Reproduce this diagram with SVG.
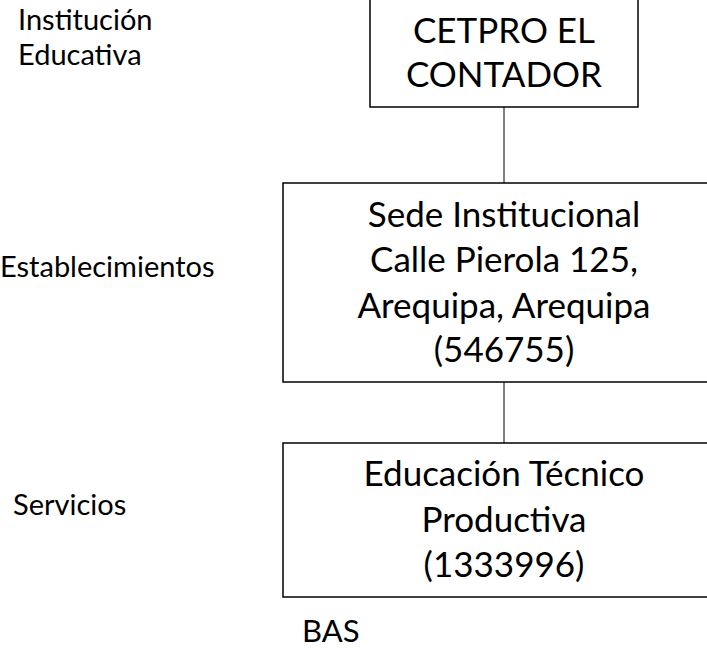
<svg xmlns="http://www.w3.org/2000/svg" width="707" height="648" viewBox="0 0 707 648">
<style>
  .box { fill: #ffffff; stroke: #000000; stroke-width: 1.5; }
  .conn { stroke: #000000; stroke-width: 1; fill: none; }
  .t { font-family: Lato, "Open Sans", "Liberation Sans", sans-serif; fill: #000000; }
  .big { font-size: 35px; text-anchor: middle; }
  .lab { font-size: 29px; }
</style>
<rect width="707" height="648" fill="#ffffff"/>
<g id="connectors">
  <line class="conn" x1="504" y1="107" x2="504" y2="183"/>
  <line class="conn" x1="504" y1="382" x2="504" y2="443"/>
</g>
<g id="node-cetpro">
  <rect class="box" x="370" y="-1" width="268" height="108"/>
  <text class="t big" x="504" y="43">CETPRO EL</text>
  <text class="t big" x="504" y="87">CONTADOR</text>
</g>
<g id="node-sede">
  <rect class="box" x="283" y="183" width="442" height="199"/>
  <text class="t big" x="504" y="227">Sede Institucional</text>
  <text class="t big" x="504" y="272">Calle Pierola 125,</text>
  <text class="t big" x="504" y="318">Arequipa, Arequipa</text>
  <text class="t big" x="504" y="362">(546755)</text>
</g>
<g id="node-servicio">
  <rect class="box" x="283" y="443" width="442" height="154"/>
  <text class="t big" x="504" y="486">Educación Técnico</text>
  <text class="t big" x="504" y="532">Productiva</text>
  <text class="t big" x="504" y="577">(1333996)</text>
</g>
<g id="labels">
  <text class="t lab" x="18" y="30">Institución</text>
  <text class="t lab" x="18" y="65">Educativa</text>
  <text class="t lab" x="0" y="277">Establecimientos</text>
  <text class="t lab" x="13" y="515">Servicios</text>
  <text class="t lab" x="302" y="642" style="font-size:31px">BAS</text>
</g>
</svg>
